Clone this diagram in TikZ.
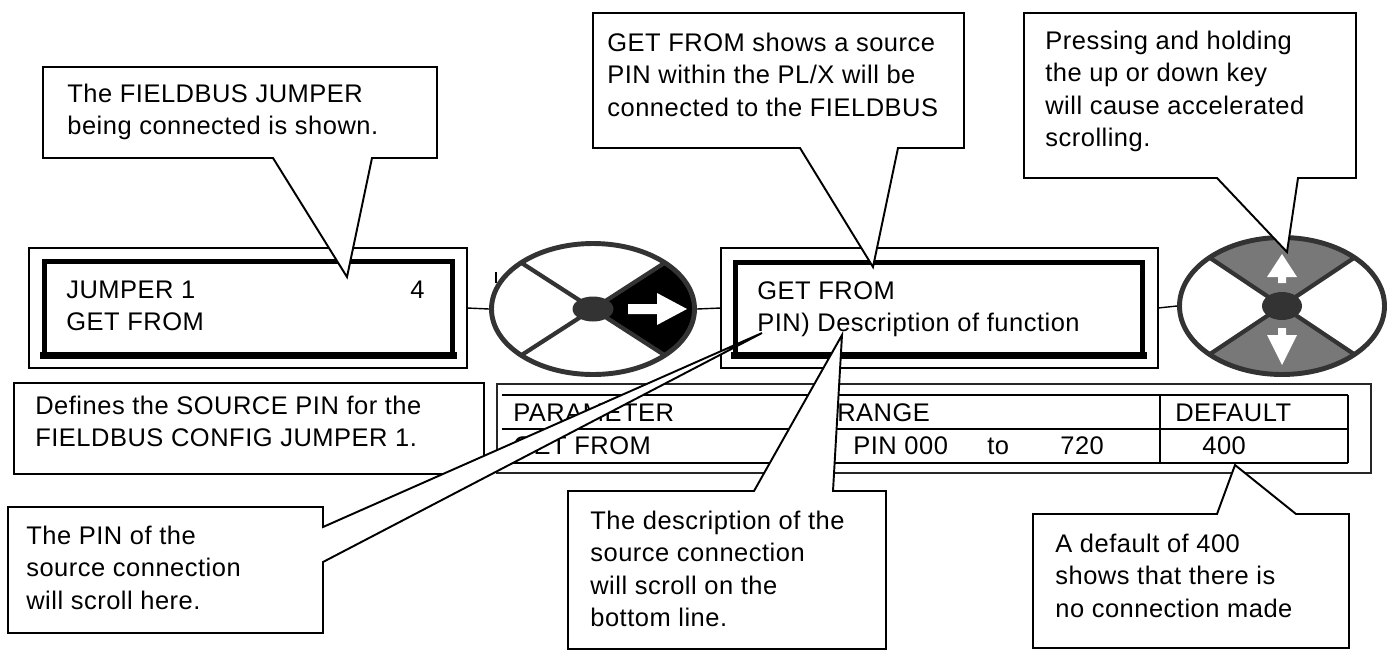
\documentclass[tikz,border=0pt]{standalone}
\usepackage{fontspec}
\setmainfont{Liberation Sans}[LetterSpace=2.0]
\usetikzlibrary{shapes.geometric}
\definecolor{keygray}{HTML}{333333}
\definecolor{secgray}{HTML}{787878}
\newcommand\lblfont{\fontsize{14.5}{18.5}\selectfont}
\begin{document}
\begin{tikzpicture}[x=0.02cm,y=-0.02cm,
  callout/.style={draw=black, fill=white, line width=1.1pt, line join=miter},
  thinbox/.style={draw=black, line width=0.8pt, inner sep=0pt, outer sep=0pt},
  lcd/.style={draw=black, line width=2.8pt, inner sep=0pt},
  txt/.style={anchor=north west, inner sep=0pt, align=left, font=\lblfont},
  keyrim/.style={draw=keygray, line width=2.8pt},
  spoke/.style={draw=keygray, line width=2.4pt},
  link/.style={draw=black, line width=0.8pt},
  tline/.style={draw=black, line width=1.1pt},
  keypad/.style={ellipse, inner sep=0pt, outer sep=1.4pt},
]
\useasboundingbox (0,0) rectangle (1396,650);

% ---------- left display ----------
\node[thinbox, minimum width=8.76cm, minimum height=2.4cm] (d1o) at (248,308) {};
\node[lcd, minimum width=8.16cm, minimum height=1.86cm] (d1i) at (248.5,308) {};
\fill ([xshift=-1.4pt,yshift=-1.4pt]d1i.south west) rectangle ([xshift=1.4pt,yshift=3.1pt]d1i.south east);
\node[txt] (d1t) at (66,275) {\strut JUMPER 1\\GET FROM};
\node[txt, anchor=north east] (d1n) at (425,275) {\strut 4};

% ---------- middle display ----------
\node[thinbox, minimum width=8.74cm, minimum height=2.4cm] (d2o) at (939.5,308) {};
\node[lcd, minimum width=8.14cm, minimum height=1.84cm] (d2i) at (939,308.5) {};
\fill ([xshift=-1.4pt,yshift=-1.4pt]d2i.south west) rectangle ([xshift=1.4pt,yshift=3.1pt]d2i.south east);
\node[txt] (d2t) at (757,276) {\strut GET FROM\\PIN) Description of function};

% ---------- left keypad ----------
\node[keypad, minimum width=4.06cm, minimum height=2.62cm] (k1) at (593,309) {};
\fill[white] (k1.center) ellipse [x radius=101.5, y radius=65.5];
\begin{scope}
  \clip (k1.center) ellipse [x radius=101.5, y radius=65.5];
  \fill[black] (k1.center) -- ++(143.6,-92.6) -- ++(0,185.2) -- cycle;
\end{scope}
\draw[spoke] (k1.center) ++(-71.8,-46.3) -- ++(143.6,92.6);
\draw[spoke] (k1.center) ++(-71.8,46.3) -- ++(143.6,-92.6);
\draw[keyrim] (k1.center) ellipse [x radius=101.5, y radius=65.5];
\fill[keygray] (k1.center) ellipse [x radius=20.5, y radius=12.5];
\fill[white] (628,304) -- (657,304) -- (657,293) -- (687,309) -- (657,325) -- (657,314) -- (628,314) -- cycle;
\draw[line width=1.2pt] (496,272) -- (496,283);

% ---------- right keypad ----------
\node[keypad, minimum width=4.1cm, minimum height=2.74cm] (k2) at (1282,306) {};
\fill[white] (k2.center) ellipse [x radius=102.5, y radius=68.5];
\begin{scope}
  \clip (k2.center) ellipse [x radius=102.5, y radius=68.5];
  \fill[secgray] (k2.center) -- ++(-145,-96.8) -- ++(290,0) -- cycle;
  \fill[secgray] (k2.center) -- ++(-145,96.8) -- ++(290,0) -- cycle;
\end{scope}
\draw[spoke] (k2.center) ++(-72.5,-48.4) -- ++(145,96.8);
\draw[spoke] (k2.center) ++(-72.5,48.4) -- ++(145,-96.8);
\draw[keyrim] (k2.center) ellipse [x radius=102.5, y radius=68.5];
\fill[keygray] (k2.center) ellipse [x radius=20, y radius=14];
\fill[white] (1282,254) -- (1297,277) -- (1286,277) -- (1286,283) -- (1278,283) -- (1278,277) -- (1267,277) -- cycle;
\fill[white] (1278,328) -- (1286,328) -- (1286,335) -- (1297,335) -- (1282,365) -- (1267,335) -- (1278,335) -- cycle;

% ---------- connectors ----------
\draw[link] (d1o.east) -- (k1.west);
\draw[link] (k1.east) -- (d2o.west);
\draw[link] (d2o.east) -- (k2.west);

% ---------- definition box ----------
\node[thinbox, minimum width=9.4cm, minimum height=1.82cm] (bdef) at (249,428.5) {};
\node[txt] (bdeft) at (35,391) {\strut Defines the SOURCE PIN for the\\FIELDBUS CONFIG JUMPER 1.};

% ---------- parameter table ----------
\node[thinbox, draw=black!85, minimum width=17.48cm, minimum height=1.78cm] (tbl) at (934,428.5) {};
\draw[tline] (502,395) -- (1348,395);
\draw[tline] (502,429) -- (1348,429);
\draw[tline] (502,463) -- (1348,463);
\draw[tline] (1160,395) -- (1160,463);
\draw[tline] (1348,395) -- (1348,463);
\node[txt] (th1) at (513,398) {\strut PARAMETER};
\node[txt] (th2) at (837,398) {\strut RANGE};
\node[txt] (th3) at (1175,398) {\strut DEFAULT};
\node[txt] (tr1) at (513,431) {\strut GET FROM};
\node[txt] (tr2) at (853,431) {\strut PIN 000};
\node[txt] (tr3) at (987,431) {\strut to};
\node[txt] (tr4) at (1060,431) {\strut 720};
\node[txt] (tr5) at (1202,431) {\strut 400};

% ---------- callouts ----------
\draw[callout] (43,67) -- (437,67) -- (437,158) -- (372,158) -- (347,277) -- (273,158) -- (43,158) -- cycle;
\node[txt] (ca) at (67,79) {\strut The FIELDBUS JUMPER\\being connected is shown.};

\draw[callout] (593,13) -- (964,13) -- (964,148) -- (898,148) -- (873,267) -- (800,148) -- (593,148) -- cycle;
\node[txt] (cc) at (607,28) {\strut GET FROM shows a source\\PIN within the PL/X will be\\connected to the FIELDBUS};

\draw[callout] (1024,13) -- (1356,13) -- (1356,178) -- (1298,178) -- (1287,252) -- (1217,178) -- (1024,178) -- cycle;
\node[txt] (cd) at (1045,26) {\strut Pressing and holding\\the up or down key\\will cause accelerated\\scrolling.};

\draw[callout] (8,507) -- (323,507) -- (323,527) -- (762,333) -- (323,562) -- (323,633) -- (8,633) -- cycle;
\node[txt] (cf) at (26,521) {\strut The PIN of the\\source connection\\will scroll here.};

\draw[callout] (568,491) -- (754,491) -- (842,335) -- (833,491) -- (886,491) -- (886,649) -- (568,649) -- cycle;
\node[txt] (ce) at (590,506) {\strut The description of the\\source connection\\will scroll on the\\bottom line.};

\draw[callout] (1033,514) -- (1217,514) -- (1235,465) -- (1296,514) -- (1349,514) -- (1349,648) -- (1033,648) -- cycle;
\node[txt] (cg) at (1055,529) {\strut A default of 400\\shows that there is\\no connection made};
\end{tikzpicture}
\end{document}
